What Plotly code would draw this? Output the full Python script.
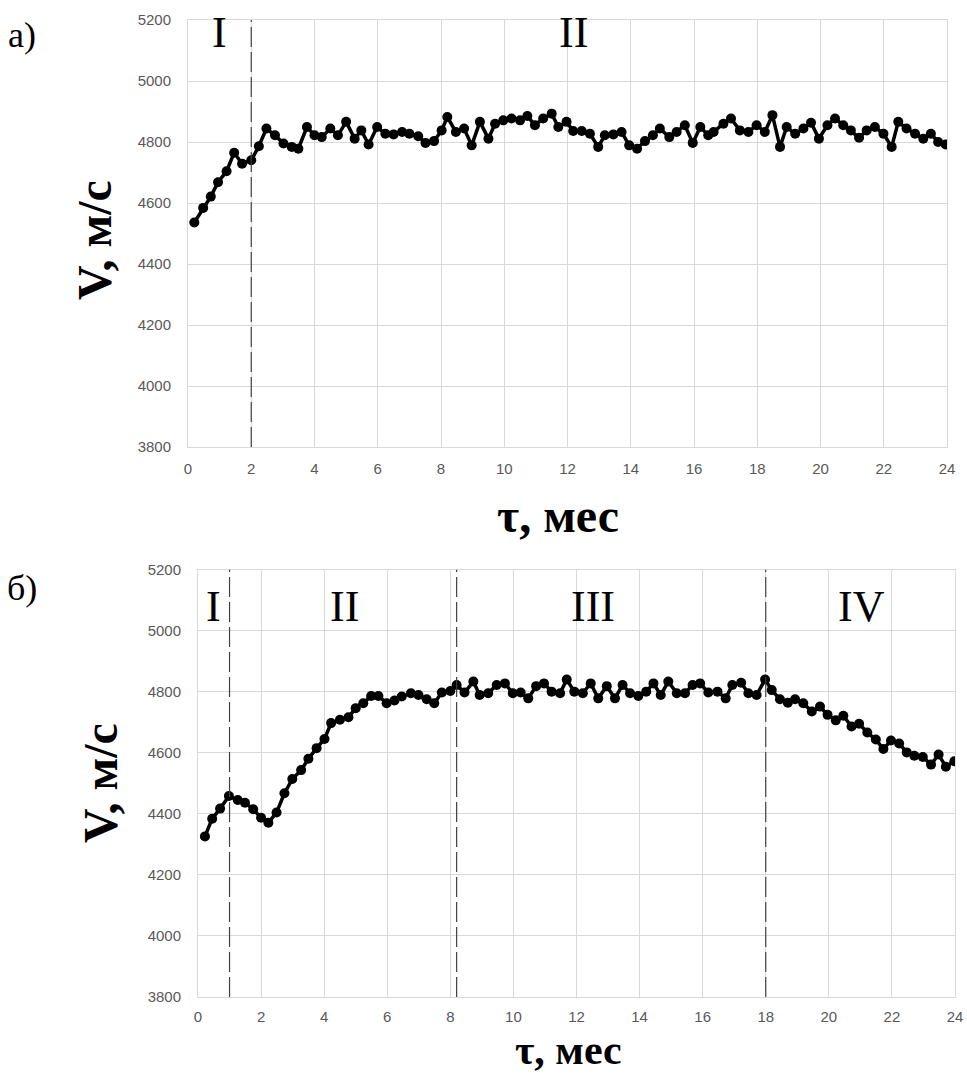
import plotly.graph_objects as go

# ---- data: panel a) ----
tau_a = [0.2, 0.48, 0.72, 0.95, 1.22, 1.46, 1.71, 2.0, 2.24, 2.48, 2.75, 3.02, 3.28, 3.49, 3.76,
         4.0, 4.23, 4.5, 4.74, 5.0, 5.27, 5.48, 5.71, 5.98, 6.24, 6.5, 6.77, 7.0, 7.28, 7.51,
         7.78, 8.02, 8.2, 8.47, 8.73, 8.97, 9.23, 9.5, 9.71, 9.97, 10.23, 10.5, 10.73, 10.97,
         11.23, 11.5, 11.71, 11.97, 12.18, 12.45, 12.71, 12.97, 13.18, 13.45, 13.71, 13.95,
         14.2, 14.45, 14.7, 14.92, 15.22, 15.45, 15.71, 15.96, 16.2, 16.45, 16.62, 16.93,
         17.17, 17.45, 17.72, 17.98, 18.24, 18.48, 18.72, 18.93, 19.2, 19.46, 19.7, 19.95,
         20.22, 20.46, 20.72, 20.96, 21.22, 21.46, 21.72, 21.99, 22.25, 22.46, 22.72, 22.99,
         23.25, 23.49, 23.72, 23.96]
v_a = [4536, 4584, 4621, 4668, 4704, 4765, 4729, 4740, 4786, 4844, 4822, 4795, 4784, 4778, 4849,
       4822, 4816, 4844, 4822, 4866, 4811, 4838, 4792, 4849, 4827, 4825, 4833, 4827, 4819, 4797,
       4803, 4838, 4882, 4833, 4844, 4789, 4866, 4811, 4860, 4871, 4877, 4871, 4885, 4855,
       4877, 4893, 4849, 4866, 4836, 4836, 4827, 4784, 4822, 4825, 4833, 4789,
       4778, 4803, 4822, 4844, 4816, 4833, 4855, 4797, 4849, 4822, 4833, 4860,
       4877, 4838, 4833, 4855, 4833, 4888, 4784, 4849, 4827, 4844, 4863, 4811,
       4855, 4877, 4855, 4838, 4814, 4838, 4849, 4827, 4784, 4866, 4844, 4827,
       4811, 4827, 4800, 4792]

# ---- data: panel б) ----
tau_b = [0.22, 0.45, 0.7, 0.98, 1.26, 1.49, 1.75, 2.0, 2.23, 2.49, 2.74, 2.99, 3.27, 3.5, 3.76,
         4.01, 4.22, 4.5, 4.77, 5.0, 5.24, 5.49, 5.72, 5.98, 6.23, 6.46, 6.75, 6.99, 7.25, 7.49,
         7.73, 8.0, 8.2, 8.45, 8.73, 8.93, 9.2, 9.47, 9.73, 9.98, 10.23, 10.47, 10.72, 10.97,
         11.21, 11.48, 11.69, 11.93, 12.2, 12.45, 12.69, 12.96, 13.22, 13.46, 13.7, 13.96,
         14.21, 14.44, 14.67, 14.91, 15.18, 15.44, 15.68, 15.92, 16.18, 16.47, 16.73, 16.94,
         17.22, 17.45, 17.71, 17.98, 18.19, 18.45, 18.7, 18.93, 19.19, 19.46, 19.72, 19.96,
         20.22, 20.46, 20.72, 20.96, 21.22, 21.49, 21.73, 21.97, 22.23, 22.47, 22.71, 22.98,
         23.24, 23.48, 23.71, 23.98]
v_b = [4326, 4384, 4417, 4458, 4445, 4436, 4415, 4387, 4371, 4404, 4467, 4514, 4543, 4580, 4615,
       4645, 4697, 4708, 4716, 4746, 4762, 4786, 4786, 4762, 4771, 4784, 4795, 4789, 4775, 4762,
       4797, 4802, 4822, 4797, 4833, 4789, 4795, 4822, 4827, 4795, 4797, 4778, 4818, 4827,
       4800, 4795, 4840, 4800, 4795, 4827, 4778, 4818, 4778, 4822, 4795, 4786,
       4800, 4827, 4789, 4833, 4795, 4795, 4822, 4827, 4797, 4800, 4778, 4822,
       4829, 4795, 4789, 4840, 4805, 4775, 4764, 4775, 4762, 4735, 4751, 4724,
       4706, 4721, 4686, 4695, 4666, 4643, 4612, 4640, 4630, 4601, 4590, 4586,
       4561, 4594, 4554, 4572]

# stage boundaries and labels
bounds_a = [2.0]
bounds_b = [1.0, 8.2, 18.0]
stage_a = ["I", "II"]
stage_a_x = [1.0, 12.2]
stage_b = ["I", "II", "III", "IV"]
stage_b_x = [0.48, 4.66, 12.52, 21.05]

x_ticks = list(range(0, 25, 2))
y_ticks = list(range(3800, 5201, 200))

W, H = 967, 1077
serif = "Liberation Serif, Times New Roman, serif"
tickfont = dict(family="Liberation Sans Narrow, Liberation Sans, Arial", size=15, color="#595959")

fig = go.Figure()
marker = dict(color="black", size=10, symbol="circle")
line = dict(color="black", width=3.5)
fig.add_trace(go.Scatter(x=tau_a, y=v_a, mode="lines+markers", marker=marker, line=line,
                         xaxis="x", yaxis="y", showlegend=False))
fig.add_trace(go.Scatter(x=tau_b, y=v_b, mode="lines+markers", marker=marker, line=line,
                         xaxis="x2", yaxis="y2", showlegend=False))

ax_common = dict(showgrid=True, gridcolor="#d9d9d9", gridwidth=1, showline=True,
                 linecolor="#d9d9d9", linewidth=1, mirror=True, zeroline=False,
                 ticks="", tickfont=tickfont, automargin=False)

top_x = [188 / W, 947 / W]
top_y = [1 - 447 / H, 1 - 20 / H]
bot_x = [198 / W, 955 / W]
bot_y = [1 - 997 / H, 1 - 569.5 / H]

fig.update_layout(
    width=W, height=H, margin=dict(l=0, r=0, t=0, b=0),
    paper_bgcolor="white", plot_bgcolor="white",
    xaxis=dict(domain=top_x, range=[0, 24], tickvals=x_ticks, anchor="y",
               ticklabelstandoff=8, **ax_common),
    yaxis=dict(domain=top_y, range=[3800, 5200], tickvals=y_ticks, anchor="x",
               ticklabelstandoff=13, **ax_common),
    xaxis2=dict(domain=bot_x, range=[0, 24], tickvals=x_ticks, anchor="y2",
                ticklabelstandoff=6, **ax_common),
    yaxis2=dict(domain=bot_y, range=[3800, 5200], tickvals=y_ticks, anchor="x2",
                ticklabelstandoff=13, **ax_common),
)

dash = "20px,5px"
for b in bounds_a:
    fig.add_shape(type="line", xref="x", yref="y", x0=b, x1=b, y0=3800, y1=5200,
                  line=dict(color="#404040", width=1.2, dash=dash))
for b in bounds_b:
    fig.add_shape(type="line", xref="x2", yref="y2", x0=b, x1=b, y0=3800, y1=5200,
                  line=dict(color="#404040", width=1.2, dash=dash))

numfont = dict(family=serif, size=44, color="black")
for t, xx in zip(stage_a, stage_a_x):
    fig.add_annotation(x=xx, y=5160, xref="x", yref="y", text=t, showarrow=False,
                       font=numfont, yanchor="middle", xanchor="center")
for t, xx in zip(stage_b, stage_b_x):
    fig.add_annotation(x=xx, y=5080, xref="x2", yref="y2", text=t, showarrow=False,
                       font=numfont, yanchor="middle", xanchor="center")

titlefont = dict(family=serif, size=48, color="black")
botfont = dict(family=serif, size=42, color="black")
# y titles
fig.add_annotation(x=95 / W, y=1 - 240 / H, xref="paper", yref="paper", text="<b>V, м/с</b>",
                   textangle=-90, showarrow=False, font=titlefont,
                   xanchor="center", yanchor="middle")
fig.add_annotation(x=100 / W, y=1 - 783 / H, xref="paper", yref="paper", text="<b>V, м/с</b>",
                   textangle=-90, showarrow=False, font=titlefont,
                   xanchor="center", yanchor="middle")
# x titles
fig.add_annotation(x=558 / W, y=1 - 515 / H, xref="paper", yref="paper", text="<b>τ, мес</b>",
                   showarrow=False, font=titlefont, xanchor="center", yanchor="middle")
fig.add_annotation(x=568 / W, y=1 - 1050 / H, xref="paper", yref="paper", text="<b>τ, мес</b>",
                   showarrow=False, font=botfont, xanchor="center", yanchor="middle",
                   borderpad=0)
# panel letters
letterfont = dict(family=serif, size=36, color="black")
fig.add_annotation(x=22 / W, y=1 - 35 / H, xref="paper", yref="paper", text="а)",
                   showarrow=False, font=letterfont, xanchor="center", yanchor="middle")
fig.add_annotation(x=22 / W, y=1 - 588 / H, xref="paper", yref="paper", text="б)",
                   showarrow=False, font=letterfont, xanchor="center", yanchor="middle")

fig.write_html("out.html")
